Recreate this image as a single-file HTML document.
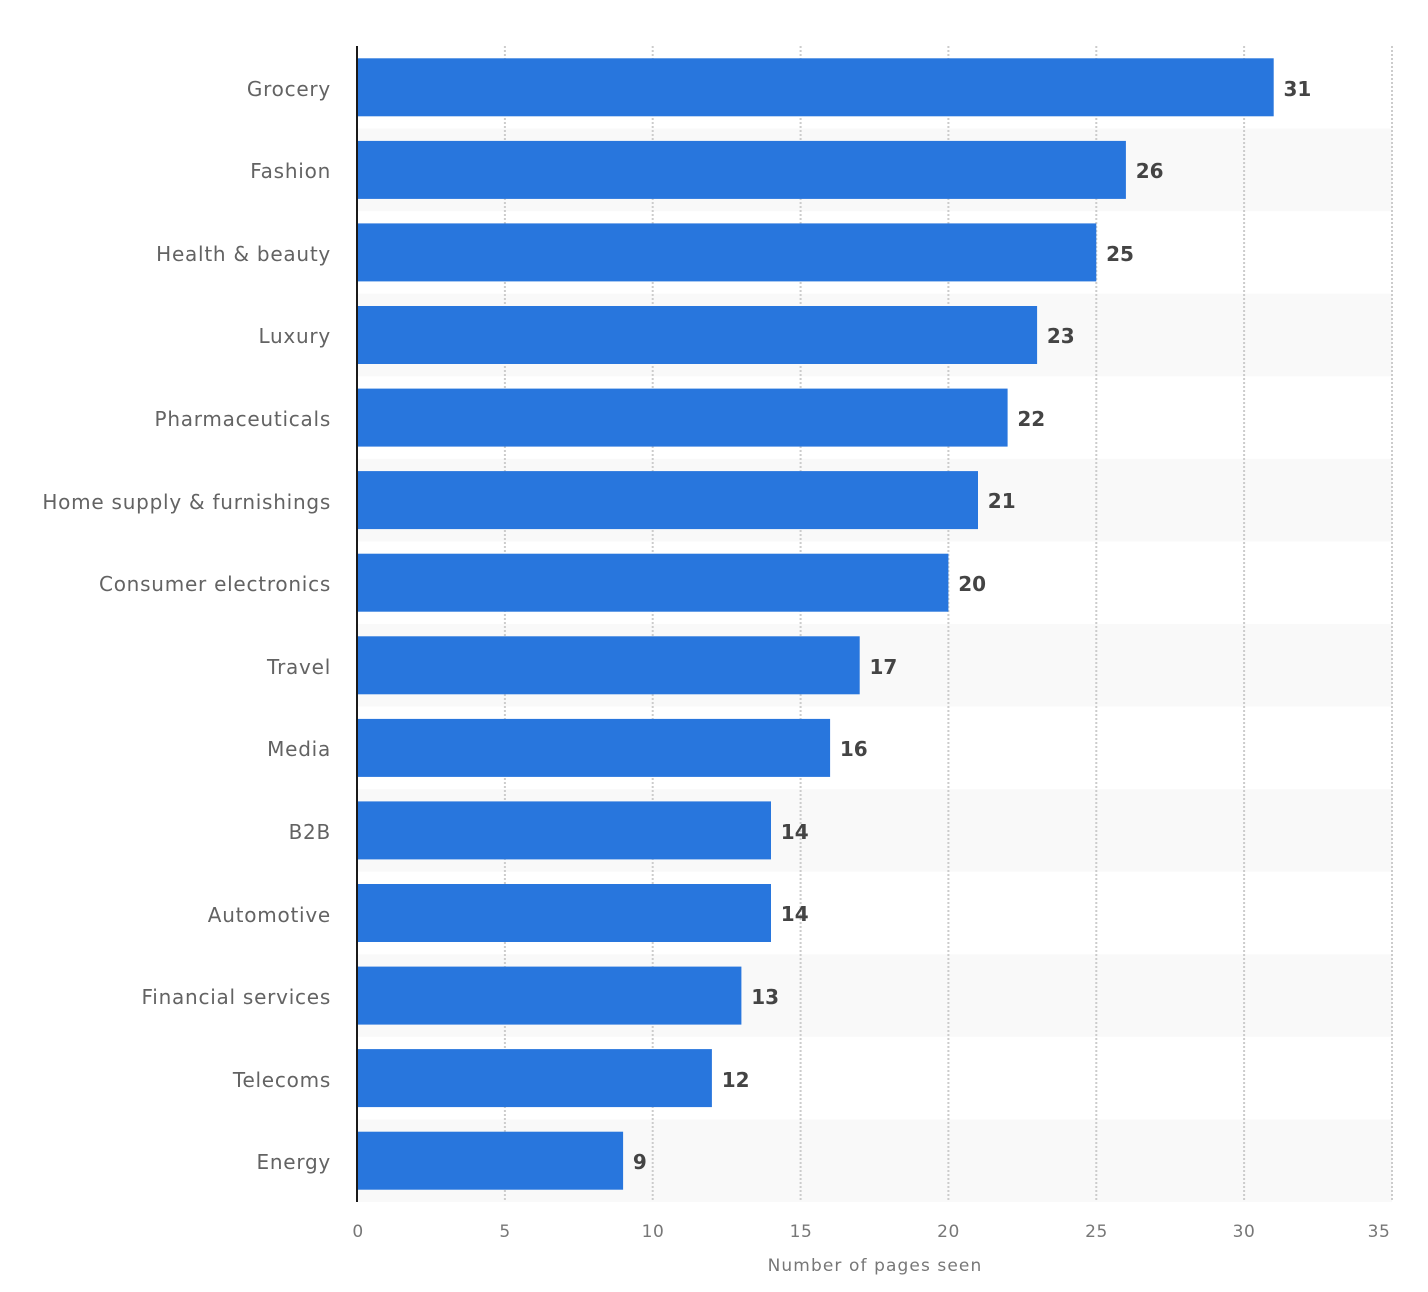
<!DOCTYPE html>
<html><head><meta charset="utf-8"><style>
html,body{margin:0;padding:0;background:#fff;}
svg{display:block;}
.cat{font-family:"DejaVu Sans","Liberation Sans",sans-serif;font-size:20px;fill:#636363;letter-spacing:0.75px;}
.tick{font-family:"DejaVu Sans","Liberation Sans",sans-serif;font-size:17px;fill:#777;letter-spacing:0.5px;}
.ttl{font-family:"DejaVu Sans","Liberation Sans",sans-serif;font-size:17px;fill:#777;letter-spacing:1.1px;}
.val{font-family:"DejaVu Sans","Liberation Sans",sans-serif;font-size:20px;font-weight:bold;fill:#444;}
</style></head><body>
<svg width="1428" height="1292" viewBox="0 0 1428 1292" xmlns="http://www.w3.org/2000/svg">
<rect width="1428" height="1292" fill="#fff"/>
<!-- stripes (odd rows) -->
<g fill="#f9f9f9">
<rect x="358" y="128.6" width="1034" height="82.6"/>
<rect x="358" y="293.7" width="1034" height="82.6"/>
<rect x="358" y="458.9" width="1034" height="82.6"/>
<rect x="358" y="624.0" width="1034" height="82.6"/>
<rect x="358" y="789.1" width="1034" height="82.6"/>
<rect x="358" y="954.3" width="1034" height="82.6"/>
<rect x="358" y="1119.4" width="1034" height="82.6"/>
</g>
<!-- gridlines -->
<g stroke="#cccccc" stroke-width="2" stroke-dasharray="2,2">
<line x1="504.9" y1="46" x2="504.9" y2="1202"/>
<line x1="652.7" y1="46" x2="652.7" y2="1202"/>
<line x1="800.6" y1="46" x2="800.6" y2="1202"/>
<line x1="948.4" y1="46" x2="948.4" y2="1202"/>
<line x1="1096.3" y1="46" x2="1096.3" y2="1202"/>
<line x1="1244.1" y1="46" x2="1244.1" y2="1202"/>
<line x1="1392" y1="46" x2="1392" y2="1202"/>
</g>
<!-- bars -->
<g fill="#2876dd">
<rect x="357" y="58.3" width="916.7" height="58"/>
<rect x="357" y="140.9" width="768.9" height="58"/>
<rect x="357" y="223.4" width="739.3" height="58"/>
<rect x="357" y="306.0" width="680.1" height="58"/>
<rect x="357" y="388.6" width="650.6" height="58"/>
<rect x="357" y="471.1" width="621.0" height="58"/>
<rect x="357" y="553.7" width="591.4" height="58"/>
<rect x="357" y="636.3" width="502.7" height="58"/>
<rect x="357" y="718.9" width="473.1" height="58"/>
<rect x="357" y="801.4" width="414.0" height="58"/>
<rect x="357" y="884.0" width="414.0" height="58"/>
<rect x="357" y="966.6" width="384.4" height="58"/>
<rect x="357" y="1049.1" width="354.9" height="58"/>
<rect x="357" y="1131.7" width="266.1" height="58"/>
</g>
<!-- axis line -->
<line x1="357" y1="46" x2="357" y2="1202" stroke="#1a1a1a" stroke-width="2"/>
<!-- category labels -->
<g class="cat" text-anchor="end">
<text x="331" y="96">Grocery</text>
<text x="331" y="178">Fashion</text>
<text x="331" y="261">Health &amp; beauty</text>
<text x="331" y="343">Luxury</text>
<text x="331" y="426">Pharmaceuticals</text>
<text x="331" y="509">Home supply &amp; furnishings</text>
<text x="331" y="591">Consumer electronics</text>
<text x="331" y="674">Travel</text>
<text x="331" y="756">Media</text>
<text x="331" y="839">B2B</text>
<text x="331" y="922">Automotive</text>
<text x="331" y="1004">Financial services</text>
<text x="331" y="1087">Telecoms</text>
<text x="331" y="1169">Energy</text>
</g>
<!-- value labels -->
<g class="val">
<text x="1283.5" y="96">31</text>
<text x="1135.7" y="178">26</text>
<text x="1106.1" y="261">25</text>
<text x="1046.9" y="343">23</text>
<text x="1017.4" y="426">22</text>
<text x="987.8" y="508">21</text>
<text x="958.2" y="591">20</text>
<text x="869.5" y="674">17</text>
<text x="839.9" y="756">16</text>
<text x="780.8" y="839">14</text>
<text x="780.8" y="921">14</text>
<text x="751.2" y="1004">13</text>
<text x="721.7" y="1087">12</text>
<text x="632.9" y="1169">9</text>
</g>
<!-- tick labels -->
<g class="tick" text-anchor="middle">
<text x="358" y="1237">0</text>
<text x="505" y="1237">5</text>
<text x="653" y="1237">10</text>
<text x="801" y="1237">15</text>
<text x="948.5" y="1237">20</text>
<text x="1096.5" y="1237">25</text>
<text x="1244" y="1237">30</text>
<text x="1379" y="1237">35</text>
</g>
<text class="ttl" x="875" y="1271" text-anchor="middle">Number of pages seen</text>
</svg>
</body></html>
